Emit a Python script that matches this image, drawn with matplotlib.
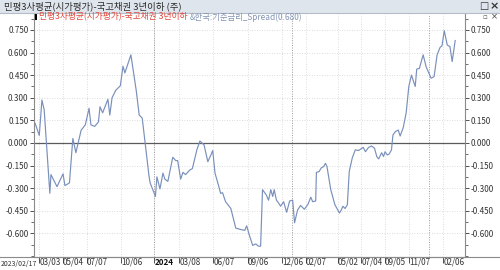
import matplotlib
matplotlib.use("Agg")
import matplotlib.pyplot as plt
import pandas as pd
from matplotlib.lines import Line2D
from matplotlib.patches import Rectangle
from matplotlib.ticker import MultipleLocator

plt.rcParams['font.family'] = ['Noto Sans CJK KR', 'DejaVu Sans']

title = "민평3사평균(시가평가)-국고채권 3년이하 (주)"
legend_main = "민평3사평균(시가평가)-국고채권 3년이하"
legend_extra = "&한국:기준금리_Spread(0.680)"

dates = [
    "2023-02-20", "2023-03-03", "2023-03-10", "2023-03-16", "2023-03-31", "2023-04-03",
    "2023-04-19", "2023-05-05", "2023-05-10", "2023-05-22", "2023-05-31", "2023-06-08",
    "2023-06-22", "2023-07-03", "2023-07-13", "2023-07-18", "2023-07-28", "2023-08-07",
    "2023-08-11", "2023-08-18", "2023-09-01", "2023-09-06", "2023-09-12", "2023-09-22",
    "2023-10-04", "2023-10-11", "2023-10-16", "2023-11-01", "2023-11-15", "2023-11-23",
    "2023-12-01", "2023-12-19", "2023-12-22", "2024-01-05", "2024-01-09", "2024-01-17",
    "2024-01-25", "2024-01-30", "2024-02-07", "2024-02-20", "2024-02-28", "2024-03-04",
    "2024-03-12", "2024-03-18", "2024-03-25", "2024-04-05", "2024-04-12", "2024-04-24",
    "2024-05-02", "2024-05-13", "2024-05-23", "2024-05-31", "2024-06-05", "2024-06-11",
    "2024-06-19", "2024-06-26", "2024-07-01", "2024-07-09", "2024-07-23", "2024-08-05",
    "2024-08-19", "2024-08-29", "2024-09-03", "2024-09-11", "2024-09-19", "2024-09-27",
    "2024-10-04", "2024-10-10", "2024-10-15", "2024-10-25", "2024-10-31", "2024-11-06",
    "2024-11-11", "2024-11-15", "2024-11-21", "2024-11-27", "2024-12-02", "2024-12-10",
    "2024-12-18", "2024-12-26", "2025-01-03", "2025-01-08", "2025-01-16", "2025-01-24",
    "2025-02-03", "2025-02-12", "2025-02-20", "2025-02-25", "2025-03-05", "2025-03-07",
    "2025-03-14", "2025-03-20", "2025-03-26", "2025-03-31", "2025-04-04", "2025-04-14",
    "2025-04-25", "2025-05-07", "2025-05-12", "2025-05-16", "2025-05-22", "2025-05-28",
    "2025-06-02", "2025-06-10", "2025-06-18", "2025-06-27", "2025-07-09", "2025-07-15",
    "2025-07-23", "2025-07-31", "2025-08-08", "2025-08-14", "2025-08-19", "2025-08-27",
    "2025-09-01", "2025-09-05", "2025-09-11", "2025-09-16", "2025-09-22", "2025-09-26",
    "2025-10-02", "2025-10-10", "2025-10-15", "2025-10-23", "2025-10-31", "2025-11-07",
    "2025-11-14", "2025-11-24", "2025-11-28", "2025-12-05", "2025-12-15", "2025-12-23",
    "2026-01-05", "2026-01-13", "2026-01-21", "2026-01-29", "2026-02-03", "2026-02-09",
    "2026-02-17", "2026-02-24", "2026-03-02", "2026-03-10",
]
spread = [
    0.13, 0.05, 0.285, 0.22, -0.334, -0.21,
    -0.29, -0.205, -0.283, -0.265, 0.03, -0.065,
    0.085, 0.12, 0.23, 0.12, 0.11, 0.14,
    0.24, 0.20, 0.29, 0.185, 0.30, 0.35,
    0.38, 0.51, 0.465, 0.585, 0.35, 0.185,
    0.165, -0.22, -0.265, -0.355, -0.225, -0.305,
    -0.20, -0.24, -0.255, -0.095, -0.117, -0.117,
    -0.24, -0.195, -0.21, -0.18, -0.17, -0.045,
    0.013, -0.013, -0.125, -0.08, -0.05, -0.20,
    -0.27, -0.335, -0.33, -0.39, -0.435, -0.565,
    -0.575, -0.58, -0.55, -0.62, -0.68, -0.67,
    -0.685, -0.685, -0.31, -0.345, -0.38, -0.31,
    -0.355, -0.31, -0.38, -0.40, -0.42, -0.39,
    -0.46, -0.385, -0.38, -0.53, -0.445, -0.415,
    -0.44, -0.41, -0.36, -0.39, -0.385, -0.195,
    -0.19, -0.165, -0.157, -0.135, -0.157, -0.31,
    -0.41, -0.465, -0.445, -0.42, -0.435, -0.41,
    -0.19, -0.10, -0.046, -0.05, -0.029, -0.058,
    -0.03, -0.02, -0.035, -0.09, -0.106, -0.065,
    -0.09, -0.058, -0.08, -0.073, -0.046, 0.053,
    0.075, 0.086, 0.046, 0.10, 0.20, 0.375,
    0.45, 0.375, 0.49, 0.495, 0.585, 0.505,
    0.43, 0.44, 0.585, 0.635, 0.645, 0.745,
    0.65, 0.64, 0.54, 0.68,
]

tick_dates = ["2023-03-03", "2023-05-04", "2023-07-07", "2023-10-06", "2024-01-02",
              "2024-03-08", "2024-06-07", "2024-09-06", "2024-12-06", "2025-02-07",
              "2025-05-02", "2025-07-04", "2025-09-05", "2025-11-07", "2026-02-06"]
tick_labels = ["03/03", "05/04", "07/07", "10/06", "2024", "03/08", "06/07", "09/06",
               "12/06", "02/07", "05/02", "07/04", "09/05", "11/07", "02/06"]
year_starts = ["2024-01-01", "2025-01-01", "2025-12-31"]
y_ticks = [0.75, 0.6, 0.45, 0.3, 0.15, 0.0, -0.15, -0.3, -0.45, -0.6]

W, H = 500, 270
fig = plt.figure(figsize=(5, 2.7), dpi=100)
fig.patch.set_facecolor("white")

# window title bar
fig.add_artist(Rectangle((0, 1 - 13 / H), 1, 13 / H, transform=fig.transFigure,
                         facecolor="#dfe5ec", edgecolor="none"))
fig.add_artist(Line2D([0, 1], [1 - 13 / H] * 2, transform=fig.transFigure,
                      color="#b4bcc8", lw=0.8))
fig.text(4 / W, 1 - 6.5 / H, title, fontsize=6.8, color="#2a2a2a", va="center")
fig.text(484 / W, 1 - 6.5 / H, "□", fontsize=7, color="#333333", va="center",
         ha="center", family="DejaVu Sans", fontweight="bold")
fig.text(494 / W, 1 - 6.5 / H, "×", fontsize=8, color="#333333", va="center",
         ha="center", family="DejaVu Sans", fontweight="bold")
fig.text(485 / W, 1 - 17 / H, "▫", fontsize=5, color="#555555", va="center",
         ha="center", family="DejaVu Sans")
fig.text(494 / W, 1 - 17 / H, "×", fontsize=6, color="#444444", va="center",
         ha="center", family="DejaVu Sans")

ax = fig.add_axes([34 / W, 13 / H, (465 - 34) / W, (257 - 14) / H])
x = pd.to_datetime(dates)
ax.plot(x, spread, color="#7990bb", lw=0.85)

ax.set_xlim(pd.Timestamp("2023-02-17"), pd.Timestamp("2026-04-05"))
ax.set_ylim(-0.757, 0.856)

# grid
for v in y_ticks:
    if v == 0:
        ax.axhline(0, color="#5a5a5a", lw=0.9, zorder=1)
    else:
        ax.axhline(v, color="#d0d0d0", lw=0.6, ls=(0, (1, 2)), zorder=0)
for d in tick_dates:
    ax.axvline(pd.Timestamp(d), color="#d0d0d0", lw=0.6, ls=(0, (1, 2)), zorder=0)
for d in year_starts:
    ax.axvline(pd.Timestamp(d), color="#9a9a9a", lw=0.7, ls=(0, (1, 1.5)), zorder=0)

ax.set_yticks(y_ticks)
ax.set_yticklabels([f"{v:.3f}" for v in y_ticks])
ax.yaxis.set_minor_locator(MultipleLocator(0.075))
ax.tick_params(axis="y", which="both", left=True, right=True, labelleft=True,
               labelright=True, labelsize=5.8, colors="#333333", pad=1)
ax.tick_params(axis="y", which="major", length=3, width=0.6)
ax.tick_params(axis="y", which="minor", length=2, width=0.5)

ax.set_xticks(pd.to_datetime(tick_dates))
ax.set_xticklabels(tick_labels)
ax.tick_params(axis="x", length=4, width=0.6, labelsize=5.8, colors="#333333", pad=-3.5)
for lbl in ax.get_xticklabels():
    lbl.set_horizontalalignment("left")
    if lbl.get_text() == "2024":
        lbl.set_fontweight("bold")
        lbl.set_color("#111111")

for side in ["left", "right", "bottom"]:
    ax.spines[side].set_color("#8a8a8a")
    ax.spines[side].set_linewidth(0.8)
ax.spines["top"].set_visible(False)

# bottom axis line across the whole window
fig.add_artist(Line2D([0, 1], [13 / H] * 2, transform=fig.transFigure,
                      color="#8a8a8a", lw=0.8))
fig.text(0.5 / W, 6 / H, "2023/02/17", fontsize=5.0, color="#333333",
         ha="left", va="center")

# legend line
fig.add_artist(Rectangle((35 / W, 1 - 20 / H), 2 / W, 6 / H, transform=fig.transFigure,
                         facecolor="black", edgecolor="none"))
t1 = fig.text(39 / W, 1 - 17 / H, legend_main, fontsize=6.3, color="#e0483c", va="center")
fig.canvas.draw()
bb = t1.get_window_extent()
fig.text((bb.x1 + 2) / W, 1 - 17 / H, legend_extra, fontsize=6.0, color="#8494b4",
         va="center")

fig.savefig("out.png", dpi=100)
